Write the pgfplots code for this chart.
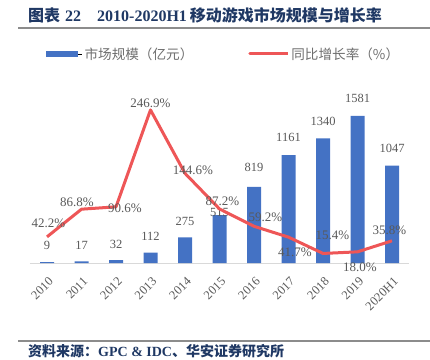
\documentclass[border=0pt]{standalone}
\usepackage{fontspec}
\usepackage{pgfplots}
\usepackage{pgfplotstable}
\pgfplotsset{compat=1.18}
\setmainfont{Liberation Serif}
\newfontfamily\cjk{Noto Sans CJK SC}
\definecolor{titleblue}{HTML}{1F3864}
\definecolor{barblue}{HTML}{4472C4}
\definecolor{linered}{HTML}{EE5657}
\definecolor{labgray}{HTML}{595959}
\definecolor{leggray}{HTML}{6E6E6E}
\definecolor{rulegray}{HTML}{8C8C8C}

\pgfplotstableread{
x y dy
0 9 17
1 17 16.5
2 32 16
3 112 16.5
4 275 16.5
5 515 3
6 819 19
7 1161 18
8 1340 17
9 1581 18
10 1047 17.5
}\bars

\pgfplotstableread{
x y dx dy
0 42.2 1.5 14
1 86.8 -4.5 7
2 90.6 9 -1
3 246.9 0 7
4 144.6 8 3
5 87.2 3 8
6 59.2 11.5 9
7 41.7 6.5 -15
8 15.4 9.5 18
9 18.0 2.5 -15
10 35.8 -2.5 10.6
}\growth

\begin{document}
\begin{tikzpicture}
\useasboundingbox (0pt,0pt) rectangle (430pt,359pt);
% title
\node[anchor=west, text=titleblue, font=\bfseries\fontsize{16}{16}\selectfont, inner sep=0pt] at (28pt,344pt)
  {{\cjk 图表}\hspace{5pt}22\hspace{16pt}2010-2020H1\hspace{3pt}{\cjk 移动游戏市场规模与增长率}};
\draw[rulegray, line width=1.2pt] (18pt,331pt) -- (430pt,331pt);
% footer
\draw[rulegray, line width=1.2pt] (18pt,18pt) -- (430pt,18pt);
\node[anchor=west, text=titleblue, font=\bfseries\fontsize{14}{14}\selectfont, inner sep=0pt] at (28pt,7.5pt)
  {{\cjk 资料来源：}GPC \& IDC{\cjk 、华安证券研究所}};

\begin{axis}[
  at={(29.75pt,96pt)}, anchor=south west,
  scale only axis, width=379.5pt, height=186pt,
  xmin=-0.5, xmax=10.5, ymin=0, ymax=2000,
  clip=false,
  hide y axis,
  axis x line*=bottom,
  x axis line style={draw=black!15, line width=0.8pt, -},
  xtick={0,...,10},
  xticklabels={2010,2011,2012,2013,2014,2015,2016,2017,2018,2019,2020H1},
  major tick length=0pt,
  x tick label style={yshift=-12pt, xshift=1pt, rotate=45, anchor=north east, text=labgray,
    font=\fontsize{12.5}{12.5}\selectfont, inner sep=1pt},
  /pgf/number format/assume math mode=true,
  /pgf/number format/1000 sep={},
  ybar, bar width=14pt,
]
\addplot[fill=barblue, draw=none,
  visualization depends on={\thisrow{dy} \as \dy},
  nodes near coords={\pgfmathprintnumber{\pgfplotspointmeta}},
  every node near coord/.style={anchor=center, yshift=\dy pt, text=labgray,
    font=\fontsize{12.5}{12.5}\selectfont, inner sep=0pt},
] table[x=x,y=y]{\bars};
\end{axis}

\begin{axis}[
  at={(29.75pt,96pt)}, anchor=south west,
  scale only axis, width=379.5pt, height=186pt,
  xmin=-0.5, xmax=10.5, ymin=0, ymax=300,
  clip=false,
  hide x axis, hide y axis,
  /pgf/number format/assume math mode=true,
  legend columns=2,
  legend style={at={(0.0428,1.124)}, anchor=west, draw=none, fill=none, inner sep=0pt,
    font=\cjk\fontsize{13.6}{13.6}\selectfont, text=leggray,
    /tikz/every even column/.append style={column sep=53pt}},
]
\addlegendimage{legend image code/.code={\path (0pt,0pt) -- (36pt,0pt);\fill[barblue] (0pt,-2.5pt) rectangle (31pt,2.5pt);}}
\addlegendentry{市场规模（亿元）}
\addplot[color=linered, line width=3pt, line join=round, mark=none,
  legend image code/.code={\path (0pt,0pt) -- (38pt,0pt);\draw[linered, line width=3pt, line cap=round] (0pt,0pt) -- (34pt,0pt);},
  visualization depends on={\thisrow{dx} \as \dx},
  visualization depends on={\thisrow{dy} \as \dy},
  nodes near coords={\pgfmathprintnumber[fixed,precision=1,fixed zerofill]{\pgfplotspointmeta}\%},
  every node near coord/.style={anchor=center, xshift=\dx pt, yshift=\dy pt, text=labgray,
    font=\fontsize{13}{13}\selectfont, inner sep=0pt},
] table[x=x,y=y]{\growth};
\addlegendentry{同比增长率（\%）}
\end{axis}
\end{tikzpicture}
\end{document}
